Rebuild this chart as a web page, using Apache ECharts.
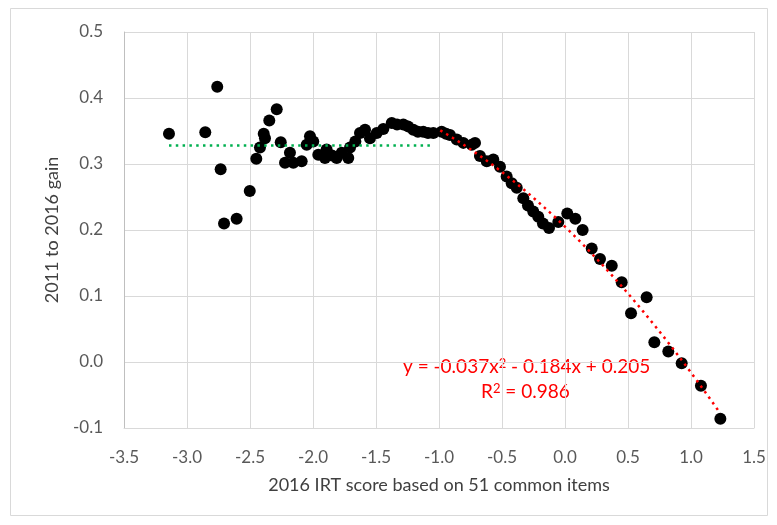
<!DOCTYPE html>
<html>
<head>
<meta charset="utf-8">
<script src="https://cdn.jsdelivr.net/npm/echarts@6/dist/echarts.min.js"></script>
<style>
  html, body { margin: 0; padding: 0; background: #fff; }
  #chart { width: 777px; height: 525px; }
</style>
</head>
<body>
<div id="chart"></div>
<script>
// 2016 IRT score (x) against 2011-to-2016 gain (y)
const irtScore = [
  -3.143, -2.855, -2.760, -2.733, -2.706, -2.606, -2.502, -2.450, -2.421, -2.391,
  -2.381, -2.347, -2.288, -2.256, -2.222, -2.183, -2.156, -2.090, -2.050, -2.024,
  -1.998, -1.958, -1.905, -1.892, -1.849, -1.812, -1.772, -1.720, -1.706, -1.664,
  -1.627, -1.587, -1.548, -1.494, -1.442, -1.375, -1.333, -1.283, -1.246, -1.204,
  -1.167, -1.125, -1.087, -1.045, -0.979, -0.944, -0.913, -0.859, -0.807, -0.740,
  -0.714, -0.675, -0.621, -0.569, -0.516, -0.463, -0.423, -0.383, -0.331, -0.294,
  -0.252, -0.212, -0.175, -0.127, -0.053, 0.018, 0.082, 0.140, 0.212, 0.278,
  0.371, 0.450, 0.524, 0.648, 0.709, 0.820, 0.926, 1.079, 1.233
];
const gain = [
  0.346, 0.348, 0.417, 0.292, 0.210, 0.217, 0.259, 0.308, 0.325, 0.346,
  0.339, 0.366, 0.383, 0.333, 0.302, 0.317, 0.302, 0.304, 0.329, 0.342,
  0.334, 0.314, 0.309, 0.322, 0.313, 0.309, 0.317, 0.309, 0.325, 0.334,
  0.347, 0.352, 0.339, 0.347, 0.353, 0.362, 0.360, 0.360, 0.357, 0.352,
  0.349, 0.349, 0.347, 0.347, 0.349, 0.346, 0.344, 0.337, 0.332, 0.329,
  0.332, 0.312, 0.304, 0.307, 0.296, 0.281, 0.271, 0.264, 0.248, 0.237,
  0.228, 0.220, 0.210, 0.203, 0.212, 0.225, 0.217, 0.200, 0.172, 0.156,
  0.146, 0.121, 0.074, 0.098, 0.030, 0.016, -0.002, -0.036, -0.086
];

// Flat trend over the low-score range
const flatTrendX = [-3.143, -1.04];
const flatTrendY = [0.328, 0.328];

// Quadratic trend over the upper range: y = c2*x^2 + c1*x + c0
const quadCoef = [-0.037, -0.184, 0.205]; // c2, c1, c0
const quadRange = [-0.99, 1.233];
const quadLabel = ['y = -0.037x{s|2} - 0.184x + 0.205', 'R{s|2} = 0.986'];

// Axis ticks
const xTicks = [-3.5, -3.0, -2.5, -2.0, -1.5, -1.0, -0.5, 0.0, 0.5, 1.0, 1.5];
const yTicks = [-0.1, 0.0, 0.1, 0.2, 0.3, 0.4, 0.5];

const FONT = 'Lato, "Liberation Sans", sans-serif';

const points = irtScore.map((x, i) => [x, gain[i]]);
const flatLine = flatTrendX.map((x, i) => [x, flatTrendY[i]]);
const quadLine = [];
const steps = 80;
for (let i = 0; i <= steps; i++) {
  const x = quadRange[0] + (quadRange[1] - quadRange[0]) * i / steps;
  quadLine.push([x, quadCoef[0] * x * x + quadCoef[1] * x + quadCoef[2]]);
}

// Raised, smaller exponent digit
const eqRich = {
  s: { fontFamily: FONT, fontSize: 13, fill: '#FF0000', verticalAlign: 'top', lineHeight: 14 }
};

const chart = echarts.init(document.getElementById('chart'), null, { renderer: 'canvas' });

chart.setOption({
  backgroundColor: '#ffffff',
  animation: false,
  grid: { left: 124, top: 32, right: 23, bottom: 97, containLabel: false },
  xAxis: {
    type: 'value',
    min: xTicks[0],
    max: xTicks[xTicks.length - 1],
    interval: 0.5,
    name: '2016 IRT score based on 51 common items',
    nameLocation: 'middle',
    nameGap: 48,
    nameTextStyle: { color: '#404040', fontSize: 18, fontFamily: FONT },
    axisLine: { show: true, onZero: false, lineStyle: { color: '#D9D9D9', width: 1 } },
    axisTick: { show: false },
    axisLabel: {
      color: '#595959', fontSize: 17, fontFamily: FONT, margin: 21,
      formatter: v => v.toFixed(1)
    },
    splitLine: { show: true, lineStyle: { color: '#D9D9D9', width: 1 } }
  },
  yAxis: {
    type: 'value',
    min: yTicks[0],
    max: yTicks[yTicks.length - 1],
    interval: 0.1,
    name: '2011 to 2016 gain',
    nameLocation: 'middle',
    nameRotate: 90,
    nameGap: 63,
    nameTextStyle: { color: '#404040', fontSize: 18, fontFamily: FONT },
    axisLine: { show: true, onZero: false, lineStyle: { color: '#BFBFBF', width: 1 } },
    axisTick: { show: false },
    axisLabel: {
      color: '#595959', fontSize: 17, fontFamily: FONT, margin: 21,
      formatter: v => v.toFixed(1)
    },
    splitLine: { show: true, lineStyle: { color: '#D9D9D9', width: 1 } }
  },
  series: [
    {
      type: 'scatter',
      data: points,
      symbol: 'circle',
      symbolSize: 12,
      itemStyle: { color: '#000000', opacity: 1 },
      z: 2
    },
    {
      type: 'line',
      data: flatLine,
      showSymbol: false,
      symbol: 'none',
      lineStyle: { color: '#00B050', width: 2.5, type: [2.5, 4.3] },
      z: 3
    },
    {
      type: 'line',
      data: quadLine,
      showSymbol: false,
      symbol: 'none',
      smooth: false,
      lineStyle: { color: '#FF0000', width: 2.5, type: [2.5, 4.3] },
      z: 3
    }
  ],
  graphic: [
    {
      type: 'rect',
      shape: { x: 10.5, y: 8.5, width: 757, height: 507 },
      style: { fill: 'none', stroke: '#D9D9D9', lineWidth: 1 },
      silent: true
    },
    {
      type: 'text',
      left: 403, top: 357,
      style: { text: quadLabel[0], fill: '#FF0000', fontSize: 19, fontFamily: FONT, rich: eqRich }
    },
    {
      type: 'text',
      left: 481, top: 382,
      style: { text: quadLabel[1], fill: '#FF0000', fontSize: 19, fontFamily: FONT, rich: eqRich }
    }
  ]
});
</script>
</body>
</html>
